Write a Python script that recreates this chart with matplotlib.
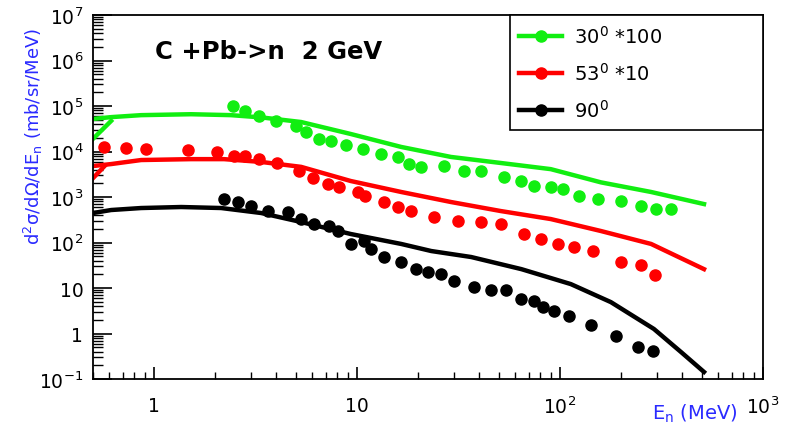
import matplotlib
matplotlib.use("Agg")
import matplotlib.pyplot as plt
from matplotlib.lines import Line2D

plt.rcParams['font.family'] = ['DejaVu Sans']
plt.rcParams['mathtext.fontset'] = 'dejavusans'
plt.rcParams['mathtext.default'] = 'regular'

# 30 deg *100 (green)
g_x = [2.45, 2.8, 3.3, 4.0, 5.0, 5.6, 6.5, 7.4, 8.8, 10.7, 13.1, 15.9, 18.0, 20.7,
       26.8, 33.6, 40.8, 53, 64, 74.5, 90, 103, 124, 154, 200, 250, 297, 352]
g_y = [1.0e5, 7.8e4, 6.0e4, 4.7e4, 3.7e4, 2.7e4, 1.9e4, 1.7e4, 1.4e4, 1.13e4, 8.8e3,
       7.6e3, 5.3e3, 4.6e3, 4.8e3, 3.7e3, 3.7e3, 2.75e3, 2.25e3, 1.75e3, 1.66e3, 1.5e3,
       1.05e3, 900, 817, 634, 545, 545]
g_line_x = [0.5, 0.614, 0.863, 1.52, 2.39, 3.4, 5.3, 9.3, 16.5, 29, 51, 90, 159, 281, 512]
g_line_y = [5.2e4, 5.7e4, 6.3e4, 6.6e4, 6.3e4, 5.6e4, 4.45e4, 2.43e4, 1.26e4, 7.6e3,
            5.6e3, 4.1e3, 2.1e3, 1.29e3, 700]
g_low_x = [0.5, 0.614]
g_low_y = [1.9e4, 4.7e4]

# 53 deg *10 (red)
r_x = [0.567, 0.728, 0.913, 1.47, 2.04, 2.48, 2.81, 3.29, 4.04, 5.18, 6.07, 7.2, 8.15,
       10.1, 10.9, 13.6, 15.9, 18.5, 23.9, 31.4, 40.8, 51.2, 66.5, 80.6, 97.8, 117, 145,
       200, 251, 294]
r_y = [1.26e4, 1.19e4, 1.13e4, 1.08e4, 9.75e3, 7.96e3, 7.96e3, 6.84e3, 5.58e3, 3.72e3,
       2.62e3, 1.93e3, 1.66e3, 1.29e3, 1.05e3, 777, 603, 492, 363, 297, 282, 255, 154,
       119, 93, 80, 65, 37, 32, 19.3]
r_line_x = [0.5, 0.614, 0.863, 1.52, 2.21, 3.37, 5.3, 9.3, 16.5, 29, 51, 90, 159, 281, 512]
r_line_y = [4.8e3, 5.3e3, 6.5e3, 6.8e3, 6.8e3, 5.9e3, 4.6e3, 2.25e3, 1.29e3, 777, 492,
            328, 179, 93, 26]
r_low_x = [0.5, 0.57]
r_low_y = [2.6e3, 4.8e3]

# 90 deg (black)
k_x = [2.21, 2.59, 3.0, 3.65, 4.57, 5.3, 6.14, 7.28, 8.06, 9.33, 10.8, 11.7, 13.6, 16.5,
       19.5, 22.4, 25.9, 30.0, 37.7, 45.7, 54.2, 64.3, 74.5, 82.5, 93.4, 111, 142, 189,
       242, 287]
k_y = [903, 777, 634, 492, 468, 328, 255, 231, 179, 93, 108, 72, 48, 37, 26, 22.5, 20.3,
       14.3, 10.5, 9.0, 9.0, 5.7, 5.2, 3.8, 3.1, 2.4, 1.54, 0.88, 0.50, 0.41]
k_line_x = [0.5, 0.614, 0.863, 1.36, 2.14, 3.37, 5.3, 9.3, 16.5, 23.2, 36.5, 64.5, 113,
            178, 290, 395, 512]
k_line_y = [445, 518, 573, 603, 573, 445, 282, 154, 93, 65, 48, 26, 12.2, 4.9, 1.26,
            0.39, 0.143]

labels = [r"30$^{0}$ *100", r"53$^{0}$ *10", r"90$^{0}$"]
colors = ["#11ee11", "#ff0000", "#000000"]

y_ticks = [1e-1, 1, 10, 1e2, 1e3, 1e4, 1e5, 1e6, 1e7]
y_labels = [r"10$^{-1}$", "1", "10", r"10$^{2}$", r"10$^{3}$", r"10$^{4}$", r"10$^{5}$",
            r"10$^{6}$", r"10$^{7}$"]
x_ticks = [1, 10, 100, 1000]
x_labels = ["1", "10", r"10$^{2}$", r"10$^{3}$"]

fig = plt.figure(figsize=(7.85, 4.27), dpi=100)
ax = fig.add_axes([0.1185, 0.110, 0.8535, 0.8525])

lw = 3.2
ms = 8
ax.plot(g_line_x, g_line_y, color=colors[0], lw=lw)
ax.plot(g_low_x, g_low_y, color=colors[0], lw=lw)
ax.plot(g_x, g_y, 'o', color=colors[0], ms=ms)
ax.plot(r_line_x, r_line_y, color=colors[1], lw=lw)
ax.plot(r_low_x, r_low_y, color=colors[1], lw=lw)
ax.plot(r_x, r_y, 'o', color=colors[1], ms=ms)
ax.plot(k_line_x, k_line_y, color=colors[2], lw=lw)
ax.plot(k_x, k_y, 'o', color=colors[2], ms=ms)

ax.set_xscale('log')
ax.set_yscale('log')
ax.set_xlim(0.5, 1000)
ax.set_ylim(0.1, 1e7)
ax.set_yticks(y_ticks, y_labels)
ax.set_xticks(x_ticks, x_labels)
ax.tick_params(axis='y', which='major', direction='in', length=14, width=1.2, labelsize=13.5, pad=7)
ax.tick_params(axis='y', which='minor', direction='in', length=7, width=1)
ax.tick_params(axis='x', which='major', direction='in', length=9, width=1.2, labelsize=13.5, pad=12)
ax.tick_params(axis='x', which='minor', direction='in', length=5, width=1)
for s in ax.spines.values():
    s.set_linewidth(1.3)

ax.text(0.093, 0.9, "C +Pb->n  2 GeV", transform=ax.transAxes, fontsize=17.5,
        fontweight='bold', va='center', ha='left')

fig.text(0.042, 0.68, r"d$^{2}$σ/dΩ/dE$_{n}$ (mb/sr/MeV)", color="#2a2aff", fontsize=13,
         rotation=90, ha='center', va='center')
fig.text(0.94, 0.03, r"E$_{n}$ (MeV)", color="#2a2aff", fontsize=14, ha='right',
         va='center')

handles = [Line2D([], [], color=c, lw=lw, marker='o', ms=ms) for c in colors]
leg = ax.legend(handles, labels, loc='upper left', bbox_to_anchor=(0.622, 1.0, 0.378, 0.0),
                mode='expand', borderaxespad=0, fontsize=14, handlelength=2.2,
                handletextpad=0.6, labelspacing=0.78, borderpad=0.5, fancybox=False,
                framealpha=1, edgecolor='black')
leg.get_frame().set_linewidth(1.2)

fig.savefig("out.png", dpi=100)
